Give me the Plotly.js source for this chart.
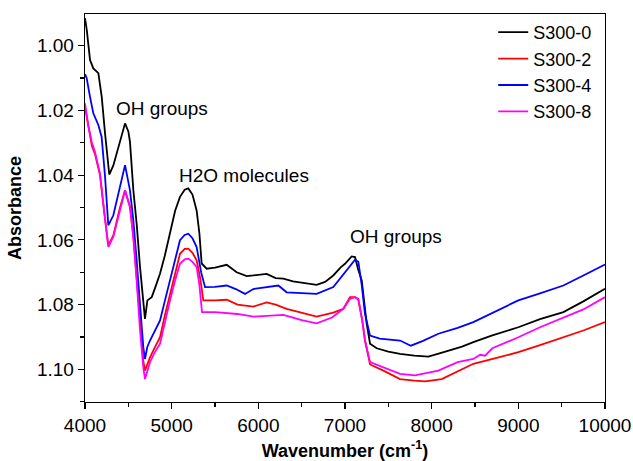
<!DOCTYPE html>
<html>
<head>
<meta charset="utf-8">
<script src="https://cdn.plot.ly/plotly-3.0.1.min.js"></script>
<style>html,body{margin:0;padding:0;background:#fff;}#chart{width:633px;height:461px;}</style>
</head>
<body>
<div id="chart"></div>
<script>
// Series names
const seriesNames = ["S300-0", "S300-2", "S300-4", "S300-8"];

// S300-0 (black)
const wn0 = [4000,4020,4058,4096,4154,4193,4231,4280,4327,4404,4462,4500,4519,4558,4596,4635,4673,4692,4720,4770,4820,4866,4920,4981,5040,5096,5150,5192,5240,5288,5320,5346,5404,5500,5635,5750,5866,5942,6096,6200,6289,6400,6500,6673,6770,6865,6950,7000,7077,7116,7150,7193,7225,7250,7289,7366,7500,7635,7800,7962,8100,8192,8350,8481,8700,9000,9250,9520,9750,10000];
const ab0 = [0.9915,0.9950,1.0044,1.0070,1.0085,1.0158,1.0270,1.0398,1.0370,1.0300,1.0240,1.0265,1.0297,1.0447,1.0550,1.0684,1.0808,1.0844,1.0787,1.0777,1.0740,1.0704,1.0650,1.0580,1.0510,1.0467,1.0445,1.0441,1.0460,1.0509,1.0580,1.0673,1.0689,1.0686,1.0677,1.0700,1.0712,1.0710,1.0705,1.0718,1.0720,1.0728,1.0732,1.0739,1.0730,1.0710,1.0685,1.0674,1.0651,1.0653,1.0690,1.0725,1.0800,1.0859,1.0921,1.0935,1.0945,1.0952,1.0958,1.0961,1.0950,1.0942,1.0930,1.0916,1.0895,1.0870,1.0845,1.0823,1.0790,1.0751];

// S300-2 (red)
const wn2 = [4000,4040,4080,4115,4173,4219,4269,4327,4404,4462,4519,4558,4596,4635,4673,4692,4750,4800,4866,4920,4981,5040,5096,5150,5192,5240,5288,5330,5365,5500,5635,5760,5942,6096,6200,6327,6500,6673,6865,6981,7058,7116,7154,7200,7231,7289,7443,7635,7800,7924,8116,8300,8481,8750,9000,9250,9520,9750,10000];
const ab2 = [1.0190,1.0255,1.0310,1.0335,1.0400,1.0510,1.0617,1.0586,1.0500,1.0447,1.0498,1.0591,1.0725,1.0870,1.0975,1.1004,1.0963,1.0935,1.0901,1.0835,1.0767,1.0700,1.0643,1.0628,1.0627,1.0640,1.0663,1.0720,1.0787,1.0787,1.0785,1.0800,1.0806,1.0793,1.0800,1.0813,1.0825,1.0837,1.0825,1.0813,1.0777,1.0777,1.0785,1.0850,1.0911,1.0985,1.1004,1.1030,1.1035,1.1037,1.1030,1.1005,1.0983,1.0965,1.0947,1.0925,1.0901,1.0880,1.0854];

// S300-4 (blue)
const wn4 = [4000,4019,4058,4096,4154,4192,4230,4269,4327,4404,4462,4519,4558,4596,4635,4673,4692,4720,4750,4800,4866,4920,4981,5040,5096,5150,5192,5240,5288,5340,5385,5500,5635,5740,5846,5942,6096,6231,6327,6500,6673,6865,7000,7080,7116,7154,7193,7231,7289,7400,7635,7760,7900,8077,8300,8481,8750,9000,9250,9520,9750,10000];
const ab4 = [1.0088,1.0100,1.0158,1.0209,1.0245,1.0282,1.0400,1.0555,1.0524,1.0437,1.0369,1.0447,1.0540,1.0663,1.0808,1.0932,1.0968,1.0930,1.0911,1.0885,1.0849,1.0790,1.0725,1.0660,1.0601,1.0585,1.0581,1.0595,1.0622,1.0700,1.0746,1.0745,1.0741,1.0752,1.0767,1.0752,1.0746,1.0741,1.0762,1.0765,1.0767,1.0746,1.0700,1.0675,1.0661,1.0668,1.0740,1.0829,1.0896,1.0905,1.0911,1.0927,1.0912,1.0890,1.0872,1.0854,1.0820,1.0787,1.0765,1.0741,1.0710,1.0676];

// S300-8 (magenta)
const wn8 = [4000,4040,4080,4115,4173,4219,4269,4327,4404,4462,4519,4558,4596,4635,4673,4692,4750,4800,4866,4920,4981,5040,5096,5150,5192,5240,5288,5320,5350,5500,5635,5760,5942,6096,6289,6400,6500,6673,6850,6981,7058,7116,7154,7200,7231,7289,7443,7635,7808,7950,8077,8300,8481,8560,8616,8700,9000,9250,9520,9750,10000];
const ab8 = [1.0178,1.0250,1.0300,1.0328,1.0395,1.0508,1.0622,1.0590,1.0503,1.0447,1.0498,1.0591,1.0725,1.0880,1.0995,1.1030,1.0978,1.0950,1.0921,1.0855,1.0787,1.0725,1.0674,1.0660,1.0658,1.0668,1.0684,1.0740,1.0823,1.0823,1.0825,1.0829,1.0837,1.0834,1.0832,1.0840,1.0848,1.0858,1.0840,1.0813,1.0782,1.0777,1.0782,1.0850,1.0911,1.0978,1.0994,1.1014,1.1019,1.1010,1.1004,1.0978,1.0968,1.0955,1.0958,1.0935,1.0901,1.0870,1.0839,1.0815,1.0777];

const colors = ["#000000", "#ff0000", "#0000ff", "#ff00ff"];

// Annotation labels
const labelTexts = ["OH groups", "H2O molecules", "OH groups"];
const labelX = [4883, 5829, 7583];
const labelY = [1.0193, 1.0400, 1.0590];

const FONT = "Liberation Sans, Arial, sans-serif";
const xs = [wn0, wn2, wn4, wn8];
const ys = [ab0, ab2, ab4, ab8];

const traces = seriesNames.map((n, i) => ({
  x: xs[i], y: ys[i], name: n, type: "scatter", mode: "lines",
  line: {color: colors[i], width: 1.8}
}));

const annotations = labelTexts.map((t, i) => ({
  x: labelX[i], y: labelY[i], xref: "x", yref: "y", text: t, showarrow: false,
  font: {family: FONT, size: 19, color: "#000"}
}));

const axisCommon = {
  showline: true, mirror: true, linecolor: "#000", linewidth: 1.3,
  ticks: "outside", ticklen: 6, tickwidth: 1.2, tickcolor: "#000",
  showgrid: false, zeroline: false,
  tickfont: {family: FONT, size: 19, color: "#000"}
};

const layout = {
  width: 633, height: 461,
  margin: {l: 85, r: 28, t: 14, b: 59},
  paper_bgcolor: "#fff", plot_bgcolor: "#fff",
  showlegend: true,
  legend: {x: 0.985, xanchor: "right", y: 1.0, yanchor: "top",
           font: {family: FONT, size: 18, color: "#000"},
           bgcolor: "rgba(0,0,0,0)", borderwidth: 0, tracegroupgap: 0},
  xaxis: Object.assign({}, axisCommon, {
    range: [4000, 10000], dtick: 1000, tick0: 4000, tickformat: "d",
    minor: {dtick: 500, ticks: "outside", ticklen: 4, tickcolor: "#000", tickwidth: 1.2},
    title: {text: "<b>Wavenumber (cm<sup>-1</sup>)</b>", font: {family: FONT, size: 18, color: "#000"}, standoff: 11}
  }),
  yaxis: Object.assign({}, axisCommon, {
    range: [1.1101, 0.9902], dtick: 0.02, tick0: 1.0, tickformat: ".2f",
    minor: {dtick: 0.01, ticks: "outside", ticklen: 4, tickcolor: "#000", tickwidth: 1.2},
    title: {text: "<b>Absorbance</b>", font: {family: FONT, size: 18, color: "#000"}, standoff: 10}
  }),
  annotations: annotations
};

Plotly.newPlot("chart", traces, layout, {displayModeBar: false, staticPlot: true});
</script>
</body>
</html>
